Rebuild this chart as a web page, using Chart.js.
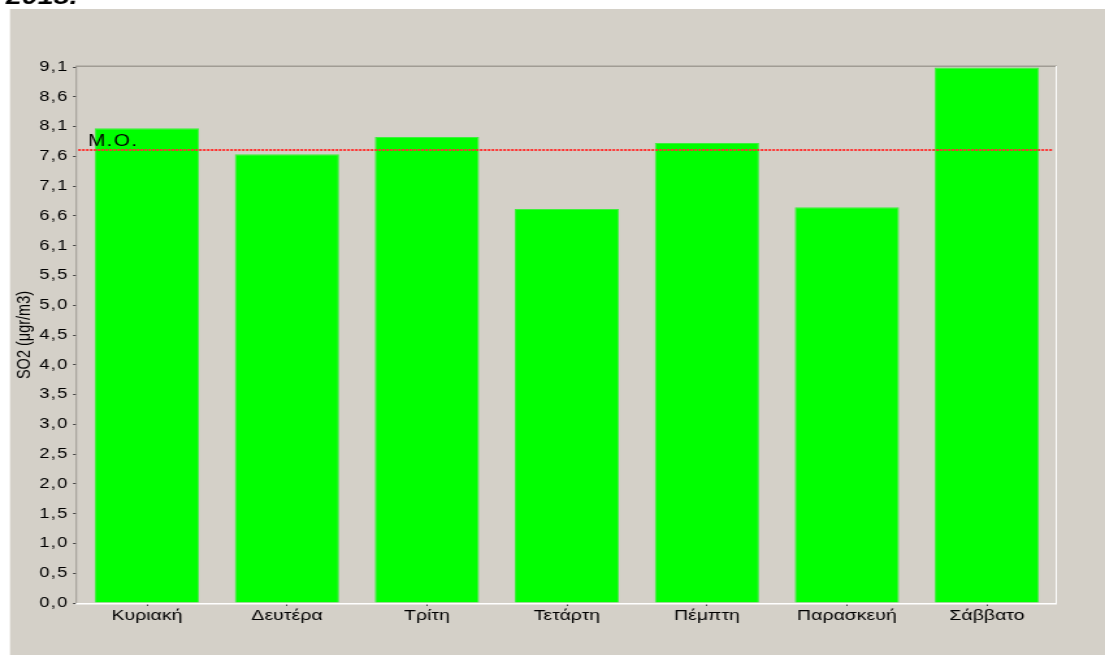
<!DOCTYPE html>
<html>
<head>
<meta charset="utf-8">
<script src="https://cdn.jsdelivr.net/npm/chart.js@4.4.1/dist/chart.umd.min.js"></script>
<style>
  html, body { margin: 0; padding: 0; background: #ffffff; overflow: hidden; }
  /* the original picture is a stretched screenshot: draw narrow, widen with CSS */
  #wrap { width: 850px; height: 655px; transform: scaleX(1.3); transform-origin: 0 0; }
  canvas { display: block; }
</style>
</head>
<body>
<div id="wrap"><canvas id="chart" width="850" height="655"></canvas></div>
<script>
// Data
const days = ['Κυριακή', 'Δευτέρα', 'Τρίτη', 'Τετάρτη', 'Πέμπτη', 'Παρασκευή', 'Σάββατο'];
const so2 = [8.06, 7.62, 7.91, 6.69, 7.81, 6.72, 9.09];
const meanValue = 7.70;
const yTickLabels = ['0,0', '0,5', '1,0', '1,5', '2,0', '2,5', '3,0', '3,5', '4,0', '4,5',
                     '5,0', '5,5', '6,1', '6,6', '7,1', '7,6', '8,1', '8,6', '9,1'];
const yMax = 9.1;

const panelBg = '#d4d0c8';
const barGreen = '#00ff00';
const fontFamily = '"Liberation Sans", Arial, sans-serif';

// run a scale's draw step with its own letter spacing
function withSpacing(scale, method, spacing) {
    const orig = scale[method];
    scale[method] = function (...args) {
        const old = this.ctx.letterSpacing;
        this.ctx.letterSpacing = spacing;
        orig.apply(this, args);
        this.ctx.letterSpacing = old;
    };
}

// background panel, plot frame, mean line
const panelPlugin = {
    id: 'panel',
    beforeDraw(chart) {
        const ctx = chart.ctx;
        ctx.save();
        ctx.fillStyle = '#ffffff';
        ctx.fillRect(0, 0, chart.width, chart.height);
        ctx.fillStyle = panelBg;
        ctx.fillRect(7.7, 9, chart.width, chart.height);
        // page title, cut off at the top edge
        ctx.fillStyle = '#000000';
        ctx.font = 'italic bold 22px ' + fontFamily;
        ctx.textBaseline = 'alphabetic';
        ctx.fillText('2015.', 4.5, 3.5);
        ctx.restore();

        if (!chart._spacingSet) {
            withSpacing(chart.scales.y, 'drawTitle', '0px');
            withSpacing(chart.scales.y, 'drawLabels', '1px');
            withSpacing(chart.scales.x, 'drawLabels', '0px');
            chart._spacingSet = true;
        }
    },
    beforeDatasetsDraw(chart) {
        const {left, right, top, bottom} = chart.chartArea;
        const ctx = chart.ctx;
        ctx.save();
        ctx.fillStyle = '#a09c94';
        ctx.fillRect(left - 1, top - 1.5, right - left + 1, 1.5);
        ctx.fillRect(left - 1, top - 1, 1, bottom - top + 1);
        ctx.fillStyle = '#ffffff';
        ctx.fillRect(left - 1, bottom, right - left + 1, 1.5);
        ctx.fillRect(right - 1, top - 1, 1, bottom - top + 2);
        ctx.restore();
    },
    afterDatasetsDraw(chart) {
        const {left, right} = chart.chartArea;
        const ctx = chart.ctx;
        const y = Math.round(chart.scales.y.getPixelForValue(meanValue));
        ctx.save();
        ctx.fillStyle = '#ff3030';
        for (let x = left + 1; x < right - 3; x += 3) {
            ctx.fillRect(x, y, 2, 2);
        }
        ctx.fillStyle = '#000000';
        ctx.font = '16px ' + fontFamily;
        ctx.letterSpacing = '1px';
        ctx.textBaseline = 'alphabetic';
        ctx.fillText('M.O.', left + 8.5, y - 3);
        ctx.restore();
    }
};

const ctx = document.getElementById('chart').getContext('2d');
const chart = new Chart(ctx, {
    type: 'bar',
    data: {
        labels: days,
        datasets: [{
            label: 'SO2',
            data: so2,
            backgroundColor: barGreen,
            borderColor: '#3cf03c',
            borderWidth: 1,
            barPercentage: 0.745,
            categoryPercentage: 1.0
        }]
    },
    options: {
        responsive: false,
        animation: false,
        devicePixelRatio: 1,
        layout: {
            padding: {left: 0, top: 67, right: 37, bottom: 0}
        },
        plugins: {
            legend: {display: false},
            tooltip: {enabled: false}
        },
        scales: {
            x: {
                afterFit(scale) { scale.height = 52; },
                grid: {
                    offset: false,
                    drawOnChartArea: false,
                    tickLength: 3,
                    tickColor: '#404040'
                },
                border: {display: false},
                ticks: {
                    color: '#000000',
                    padding: 1,
                    maxRotation: 0,
                    font: {family: fontFamily, size: 15}
                }
            },
            y: {
                min: 0,
                max: yMax,
                afterFit(scale) { scale.width = 59.2; },
                afterBuildTicks(scale) {
                    scale.ticks = yTickLabels.map((_, i) => ({value: i * yMax / (yTickLabels.length - 1)}));
                },
                grid: {
                    drawOnChartArea: false,
                    tickLength: 3,
                    tickColor: '#404040'
                },
                border: {display: false},
                ticks: {
                    color: '#000000',
                    padding: 3.5,
                    font: {family: fontFamily, size: 14},
                    callback: (value, index) => yTickLabels[index]
                },
                title: {
                    display: true,
                    text: 'SO2 (μgr/m3)',
                    color: '#000000',
                    padding: {top: 10.5, bottom: 0},
                    font: {family: fontFamily, size: 14.5}
                }
            }
        }
    },
    plugins: [panelPlugin]
});
</script>
</body>
</html>
